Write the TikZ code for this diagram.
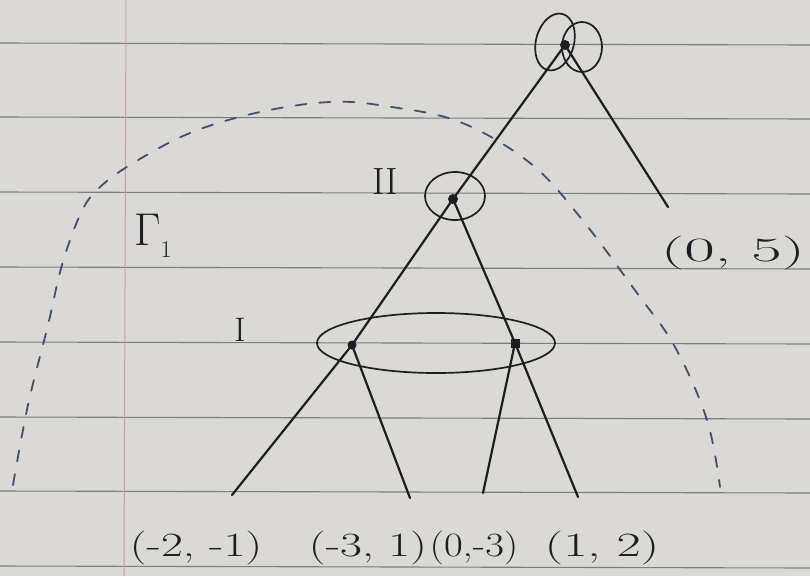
\documentclass[tikz,border=0pt]{standalone}
\usepackage{graphicx}
\usetikzlibrary{shapes.geometric}
\definecolor{paperc}{RGB}{218,217,213}
\definecolor{rulec}{RGB}{125,125,128}
\definecolor{marginc}{RGB}{200,160,160}
\definecolor{inkc}{RGB}{30,30,32}
\definecolor{dashc}{RGB}{70,78,110}
\newcommand{\wide}[2][1.4]{\scalebox{#1}[1]{#2}}
\begin{document}
\begin{tikzpicture}[x=1pt,y=-1pt,
  ink/.style={draw=inkc, line width=2.2pt, line cap=round},
  loop/.style={draw=inkc, line width=1.7pt},
  dotnode/.style={circle, fill=inkc, inner sep=0pt, minimum size=10pt},
  lbl/.style={text=inkc, font=\fontsize{34}{40}\selectfont, inner sep=0pt},
  rulel/.style={draw=rulec, line width=1.1pt},
  gam/.style={draw=dashc, line width=1.8pt, dash pattern=on 11pt off 13pt, line cap=round}]
\useasboundingbox (0,0) rectangle (810,576);
\fill[paperc] (0,0) rectangle (810,576);
% ruled lines
\foreach \yy in {43,117,192,267,342,417,491,566}
  \draw[rulel] (0,\yy) -- (810,\yy+2);
\draw[marginc, line width=1pt] (126,0) -- (124,576);
% nodes
\node[dotnode] (r) at (565,45) {};
\node[dotnode] (m) at (453,199) {};
\node[dotnode, minimum size=9pt] (a) at (352,345) {};
\node[dotnode, rectangle, minimum size=9pt] (b) at (515,343) {};
\coordinate (e) at (668,207);
\coordinate (l1) at (232,495);
\coordinate (l2) at (410,498);
\coordinate (l3) at (483,493);
\coordinate (l4) at (578,497);
% edges
\draw[ink] (r.center) -- (m.center);
\draw[ink] (r.center) -- (e);
\draw[ink] (m.center) -- (a.center);
\draw[ink] (m.center) -- (b.center);
\draw[ink] (a.center) -- (l1);
\draw[ink] (a.center) -- (l2);
\draw[ink] (b.center) -- (l3);
\draw[ink] (b.center) -- (l4);
% information set loops
\draw[loop, rotate around={-15:(555,42)}] (555,42) ellipse (19 and 29);
\draw[loop] (582,47) ellipse (20 and 25);
\draw[loop] (455,196) ellipse (30 and 24);
\draw[loop] (436,343) ellipse (119 and 30);
% labels
\node[lbl, font=\fontsize{38}{44}\selectfont] (tII) at (385,182) {II};
\node[lbl, font=\fontsize{34}{40}\selectfont] (tI) at (240,330) {I};
\node[lbl, font=\fontsize{46}{52}\selectfont] (tG) at (153,236) {Γ\raisebox{-0.25em}{\fontsize{24}{28}\selectfont 1}};
\node[lbl] (t05) at (733,253) {\wide[1.95]{(0, 5)}};
\node[lbl] (p1) at (196,548) {\wide{(-2, -1)}};
\node[lbl] (p2) at (368,548) {\wide{(-3, 1)}};
\node[lbl] (p3) at (474,548) {\wide[1.2]{(0,-3)}};
\node[lbl] (p4) at (602,548) {\wide[1.55]{(1, 2)}};
% subgame boundary
\draw[gam] plot[smooth, tension=0.6] coordinates {(13,485) (28,405) (48,325) (62,265) (80,215) (97,190) (130,165) (190,133) (260,112) (330,102) (385,106) (460,122) (530,163) (580,217) (637,293) (675,347) (707,420) (720,487)};
\end{tikzpicture}
\end{document}
